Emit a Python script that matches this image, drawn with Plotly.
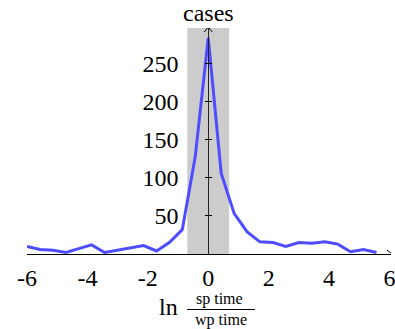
import plotly.graph_objects as go

# ---- data ----
log_ratio = [-6.00, -5.57, -5.14, -4.71, -4.29, -3.86, -3.43, -3.00, -2.57, -2.14,
             -1.71, -1.29, -0.86, -0.43, 0.00, 0.43, 0.86, 1.29, 1.71, 2.14,
             2.57, 3.00, 3.43, 3.86, 4.29, 4.71, 5.14, 5.57]
cases = [10, 6, 5, 2, 7, 12, 2, 5, 7, 11,
         4, 15, 32, 128, 284, 106, 53, 29, 16, 15,
         10, 15, 14, 16, 13, 3, 6, 2]
band = [-0.693, 0.693]
x_ticks = [-6, -4, -2, 0, 2, 4, 6]
x_ticktext = ["-6", "-4", "-2", "0", "2", "4", "6"]
y_ticks = [50, 100, 150, 200, 250]

X_RANGE = [-6.0, 6.05]
Y_RANGE = [0, 297]
FONT = "Liberation Serif"
FS = 24
FS_FRAC = 16

L, R, T, B = 27, 4, 28, 75
W, H = 395, 329
PW, PH = W - L - R, H - T - B


def px_to_paper_x(px):
    return (px - L) / PW


def px_to_paper_y(py):
    return (H - B - py) / PH


fig = go.Figure()
fig.add_trace(go.Scatter(
    x=log_ratio, y=cases, mode="lines",
    line=dict(color="rgb(77,77,255)", width=3),
    cliponaxis=False, showlegend=False, hoverinfo="skip"))
fig.add_trace(go.Scatter(x=[0], y=[0], yaxis="y2", mode="markers",
                         marker=dict(opacity=0), showlegend=False, hoverinfo="skip"))

ypos = (0 - X_RANGE[0]) / (X_RANGE[1] - X_RANGE[0])

fig.update_layout(
    width=W, height=H,
    margin=dict(l=L, r=R, t=T, b=B, autoexpand=False),
    paper_bgcolor="white", plot_bgcolor="white",
    font=dict(family=FONT, size=FS, color="black"),
    xaxis=dict(range=X_RANGE, showgrid=False, zeroline=False, automargin=False,
               showline=True, linecolor="black", linewidth=1,
               tickvals=x_ticks, ticktext=x_ticktext, ticks="",
               ticklabelstandoff=2, ticklabeloverflow="allow",
               tickfont=dict(family=FONT, size=FS)),
    yaxis=dict(range=Y_RANGE, showgrid=False, zeroline=False, automargin=False,
               anchor="free", position=ypos,
               showline=True, linecolor="#222", linewidth=1,
               tickvals=y_ticks, ticks="outside", ticklen=3, tickcolor="black",
               ticklabelstandoff=22, tickfont=dict(family=FONT, size=FS)),
    yaxis2=dict(range=Y_RANGE, overlaying="y", anchor="free", position=ypos,
                side="right", showgrid=False, zeroline=False, showline=False,
                automargin=False,
                tickvals=y_ticks, ticks="outside", ticklen=3, tickcolor="black",
                showticklabels=False),
)

# highlighted band
fig.add_shape(type="rect", xref="x", yref="paper", x0=band[0], x1=band[1], y0=0, y1=1,
              fillcolor="#cccccc", line=dict(width=0), layer="below")

# arrow heads
fig.add_shape(type="path", xref="x", yref="y", xsizemode="pixel", ysizemode="pixel",
              xanchor=X_RANGE[1], yanchor=0, path="M -4 4 L 1 0 L -4 -4",
              line=dict(color="black", width=1))
fig.add_shape(type="path", xref="x", yref="y", xsizemode="pixel", ysizemode="pixel",
              xanchor=0, yanchor=Y_RANGE[1], path="M -4 -4 L 0 1 L 4 -4",
              line=dict(color="black", width=1))

# axis titles
fig.add_annotation(x=0, y=1, xref="x", yref="paper", yanchor="bottom", yshift=0,
                   text="cases", showarrow=False, font=dict(family=FONT, size=FS))
fig.add_annotation(x=px_to_paper_x(180), y=px_to_paper_y(307), xref="paper", yref="paper",
                   xanchor="right", yanchor="middle",
                   text="ln", showarrow=False, font=dict(family=FONT, size=FS))
fig.add_annotation(x=px_to_paper_x(219), y=px_to_paper_y(299), xref="paper", yref="paper",
                   xanchor="center", yanchor="middle",
                   text="sp time", showarrow=False, font=dict(family=FONT, size=FS_FRAC))
fig.add_annotation(x=px_to_paper_x(221), y=px_to_paper_y(319.5), xref="paper", yref="paper",
                   xanchor="center", yanchor="middle",
                   text="wp time", showarrow=False, font=dict(family=FONT, size=FS_FRAC))
fig.add_shape(type="line", xref="paper", yref="paper",
              x0=px_to_paper_x(187), x1=px_to_paper_x(255),
              y0=px_to_paper_y(309.5), y1=px_to_paper_y(309.5),
              line=dict(color="black", width=1))

fig.write_html("out.html", config={"displayModeBar": False},
               post_script="document.body.style.margin='0px';document.body.style.overflow='hidden';")
